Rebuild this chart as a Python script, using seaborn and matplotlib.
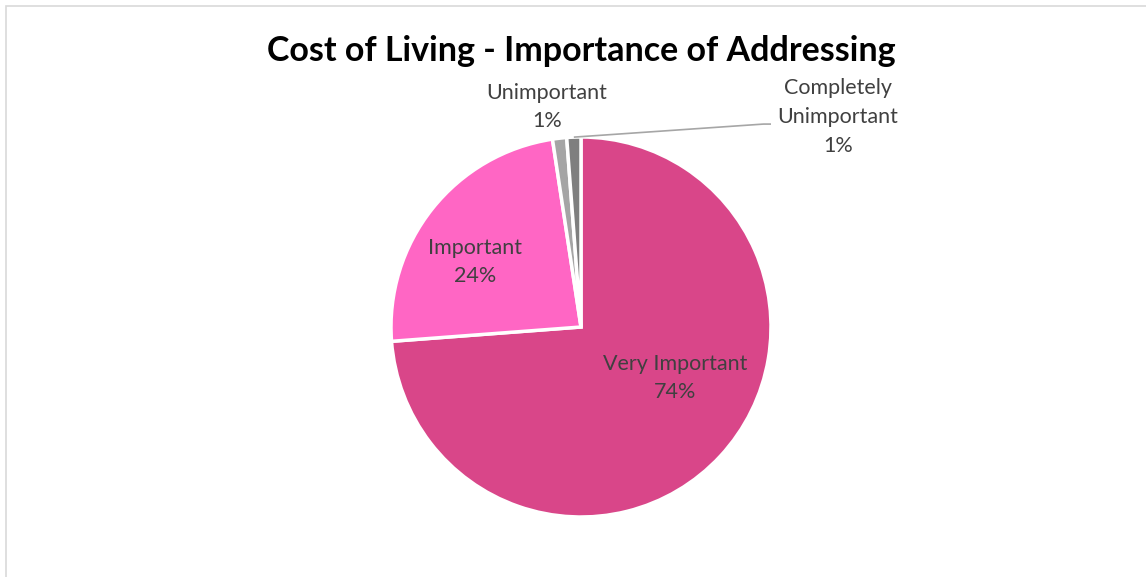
import numpy as np
import matplotlib
matplotlib.use('Agg')
import matplotlib.pyplot as plt
from matplotlib.patches import Rectangle
import seaborn as sns

categories = ['Very Important', 'Important', 'Unimportant', 'Completely\nUnimportant']
shares = [73.8, 23.8, 1.2, 1.2]
pct_labels = ['74%', '24%', '1%', '1%']
colors = ['#D94689', '#FF66C4', '#A5A5A5', '#7F7F7F']

sns.set_theme(style='white')
plt.rcParams['font.family'] = ['Lato', 'DejaVu Sans']

fig = plt.figure(figsize=(11.46, 5.77), dpi=100)

# light frame (only top/left visible in the original crop)
fig.add_artist(Rectangle((5.5 / 1146, -0.1), 1.2, 1 - 5.5 / 577 + 0.1,
                         transform=fig.transFigure, fill=False,
                         edgecolor='#D9D9D9', linewidth=1.2, clip_on=False))

ax = fig.add_axes([(581 - 190) / 1146, (250 - 190) / 577, 380 / 1146, 380 / 577])
wedges, _ = ax.pie(shares, colors=colors, startangle=90, counterclock=False,
                   wedgeprops=dict(edgecolor='white', linewidth=2.5))
ax.set_xlim(-1, 1)
ax.set_ylim(-1, 1)
ax.set_aspect('equal')
ax.axis('off')

txt = dict(ha='center', va='center', fontsize=15.5, color='#404040', linespacing=1.55)
ax.text(0.495, -0.268, f'{categories[0]}\n{pct_labels[0]}', **txt)
ax.text(-0.558, 0.342, f'{categories[1]}\n{pct_labels[1]}', **txt)
ax.text(-0.179, 1.158, f'{categories[2]}\n{pct_labels[2]}', **txt)
ax.text(1.353, 1.105, f'{categories[3]}\n{pct_labels[3]}', **txt)

# leader line for the last slice
w = wedges[3]
mid = np.deg2rad((w.theta1 + w.theta2) / 2)
x0, y0 = np.cos(mid), np.sin(mid)
ax.plot([x0, 0.96, 1.0], [y0, 1.068, 1.068], color='#A6A6A6', linewidth=1.2,
        clip_on=False, solid_capstyle='butt')

fig.text(581 / 1146, 1 - 51 / 577, 'Cost of Living - Importance of Addressing',
         ha='center', va='center', fontsize=24.5, fontweight='bold', color='black')

fig.savefig('out.png', dpi=100)
